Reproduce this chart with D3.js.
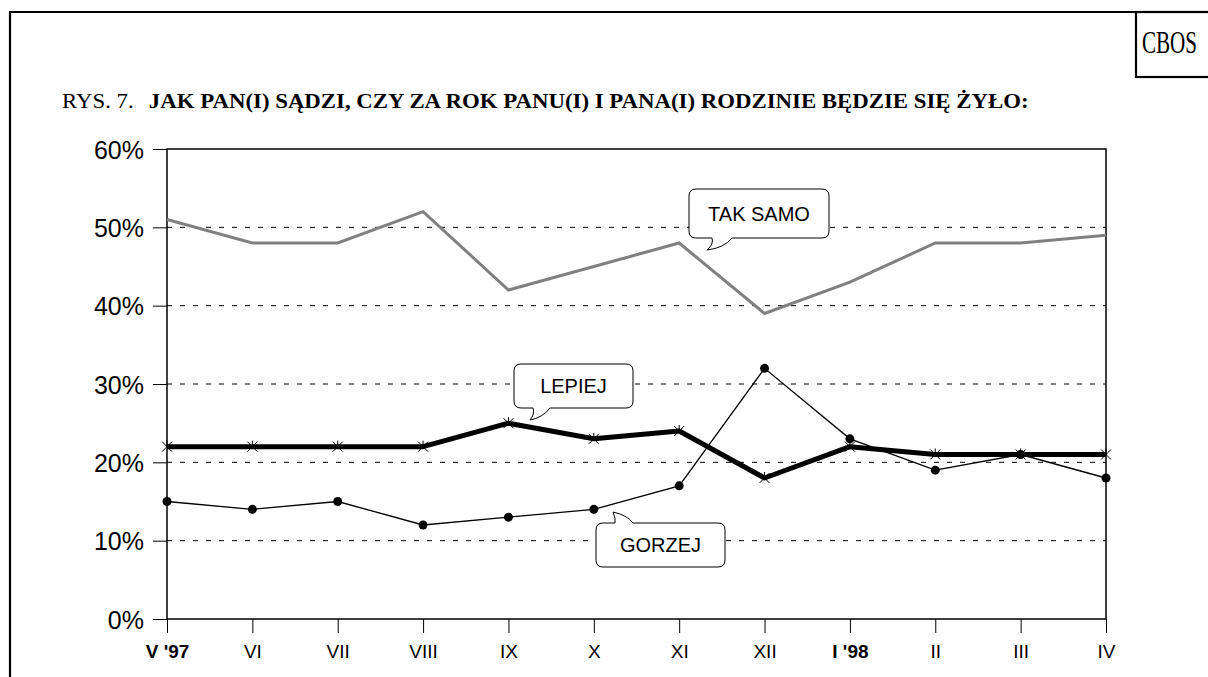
<!DOCTYPE html>
<html><head><meta charset="utf-8">
<script src="https://cdn.jsdelivr.net/npm/d3@7"></script>
<style>body{margin:0;background:#fff}svg{display:block}</style>
</head><body>
<script>
const categories = ["V '97","VI","VII","VIII","IX","X","XI","XII","I '98","II","III","IV"];
const boldCats = ["V '97","I '98"];
const takSamo = [51,48,48,52,42,45,48,39,43,48,48,49];
const lepiej  = [22,22,22,22,25,23,24,18,22,21,21,21];
const gorzej  = [15,14,15,12,13,14,17,32,23,19,21,18];
const yTicks = [0,10,20,30,40,50,60];
const titlePrefix = "RYS. 7.";
const titleMain = "JAK PAN(I) SĄDZI, CZY ZA ROK PANU(I) I PANA(I) RODZINIE BĘDZIE SIĘ ŻYŁO:";
const brand = "CBOS";

const W=1208,H=677;
const svg=d3.select("body").append("svg").attr("width",W).attr("height",H);
const L=167,R=1106,T=149,B=619;
const x=d3.scalePoint().domain(categories).range([L,R]);
const y=d3.scaleLinear().domain([0,60]).range([B,T]);

// outer frame
svg.append("path").attr("d",`M10,677 V12 H1210`).attr("fill","none").attr("stroke","#000").attr("stroke-width",2.2);
svg.append("rect").attr("x",1136).attr("y",12).attr("width",80).attr("height",65).attr("fill","#fff").attr("stroke","#000").attr("stroke-width",2.2);
const cb=svg.append("text").attr("x",0).attr("y",0).attr("font-family","Liberation Serif").attr("font-size",31).text(brand);
const cbl=cb.node().getComputedTextLength();
cb.attr("transform",`translate(1142,53) scale(${55/cbl},1)`);

// title
const tt=svg.append("text").attr("x",0).attr("y",0).attr("font-family","Liberation Serif").attr("font-size",21);
tt.append("tspan").text(titlePrefix);
tt.append("tspan").attr("dx",14).attr("font-weight","bold").text(titleMain);
const tl=tt.node().getComputedTextLength();
tt.attr("transform",`translate(62,108) scale(${952/tl},1)`);

// gridlines
svg.append("g").selectAll("line").data(yTicks.filter(d=>d>0&&d<60)).join("line")
  .attr("x1",L).attr("x2",R).attr("y1",d=>y(d)).attr("y2",d=>y(d))
  .attr("stroke","#000").attr("stroke-width",1).attr("stroke-dasharray","5,8");

// axes
const ya=svg.append("g").attr("transform",`translate(${L},0)`)
  .call(d3.axisLeft(y).tickValues(yTicks).tickFormat(d=>d+"%").tickSize(14).tickPadding(9));
ya.select(".domain").remove();
ya.selectAll("line").attr("stroke","#000");
ya.selectAll("text").attr("font-family","Liberation Sans").attr("font-size",25).attr("fill","#000").attr("dy","0.36em");

const xa=svg.append("g").attr("transform",`translate(0,${B})`)
  .call(d3.axisBottom(x).tickSize(14).tickPadding(12));
xa.select(".domain").remove();
xa.selectAll("line").attr("stroke","#000");
xa.selectAll("text").attr("font-family","Liberation Sans").attr("font-size",19).attr("fill","#000")
  .attr("font-weight",d=>boldCats.includes(d)?"bold":"normal");

// plot frame
svg.append("rect").attr("x",L).attr("y",T).attr("width",R-L).attr("height",B-T)
  .attr("fill","none").attr("stroke","#000").attr("stroke-width",1.5);

const line=d3.line().x((d,i)=>x(categories[i])).y(d=>y(d));
svg.append("path").datum(takSamo).attr("d",line).attr("fill","none").attr("stroke","#808080").attr("stroke-width",3);
svg.append("path").datum(gorzej).attr("d",line).attr("fill","none").attr("stroke","#000").attr("stroke-width",1.3);
svg.append("g").selectAll("circle").data(gorzej).join("circle")
  .attr("cx",(d,i)=>x(categories[i])).attr("cy",d=>y(d)).attr("r",4.5).attr("fill","#000");
svg.append("path").datum(lepiej).attr("d",line).attr("fill","none").attr("stroke","#000").attr("stroke-width",5).attr("stroke-linejoin","round");
svg.append("g").selectAll("path").data(lepiej).join("path")
  .attr("transform",(d,i)=>`translate(${x(categories[i])},${y(d)})`)
  .attr("d","M-5,-5L5,5M-5,5L5,-5M0,-6V0").attr("stroke","#000").attr("stroke-width",1).attr("fill","none");

// callouts
function callout(x0,y0,x1,y1,tail,label){
  const r=7;
  let d=`M${x0+r},${y0}`;
  if(tail.side==="top") d+=`H${tail.a} Q${tail.a+1},${y0-4} ${tail.tx},${tail.ty} Q${tail.b-6},${y0-8} ${tail.b},${y0}`;
  d+=`H${x1-r} Q${x1},${y0} ${x1},${y0+r} V${y1-r} Q${x1},${y1} ${x1-r},${y1}`;
  if(tail.side==="bottom") d+=`H${tail.b} Q${tail.b-8},${y1+10} ${tail.tx},${tail.ty} Q${tail.a+2},${y1+6} ${tail.a},${y1}`;
  d+=`H${x0+r} Q${x0},${y1} ${x0},${y1-r} V${y0+r} Q${x0},${y0} ${x0+r},${y0} Z`;
  svg.append("path").attr("d",d).attr("fill","#fff").attr("stroke","#000").attr("stroke-width",1);
  svg.append("text").attr("x",(x0+x1)/2).attr("y",(y0+y1)/2+7).attr("text-anchor","middle")
    .attr("font-family","Liberation Sans").attr("font-size",20).text(label);
}
callout(689,189,829,238,{side:"bottom",a:712,b:732,tx:707,ty:250},"TAK SAMO");
callout(514,364,633,408,{side:"bottom",a:533,b:550,tx:530,ty:420},"LEPIEJ");
callout(596,523,725,567,{side:"top",a:615,b:633,tx:613,ty:512},"GORZEJ");
</script>
</body></html>
